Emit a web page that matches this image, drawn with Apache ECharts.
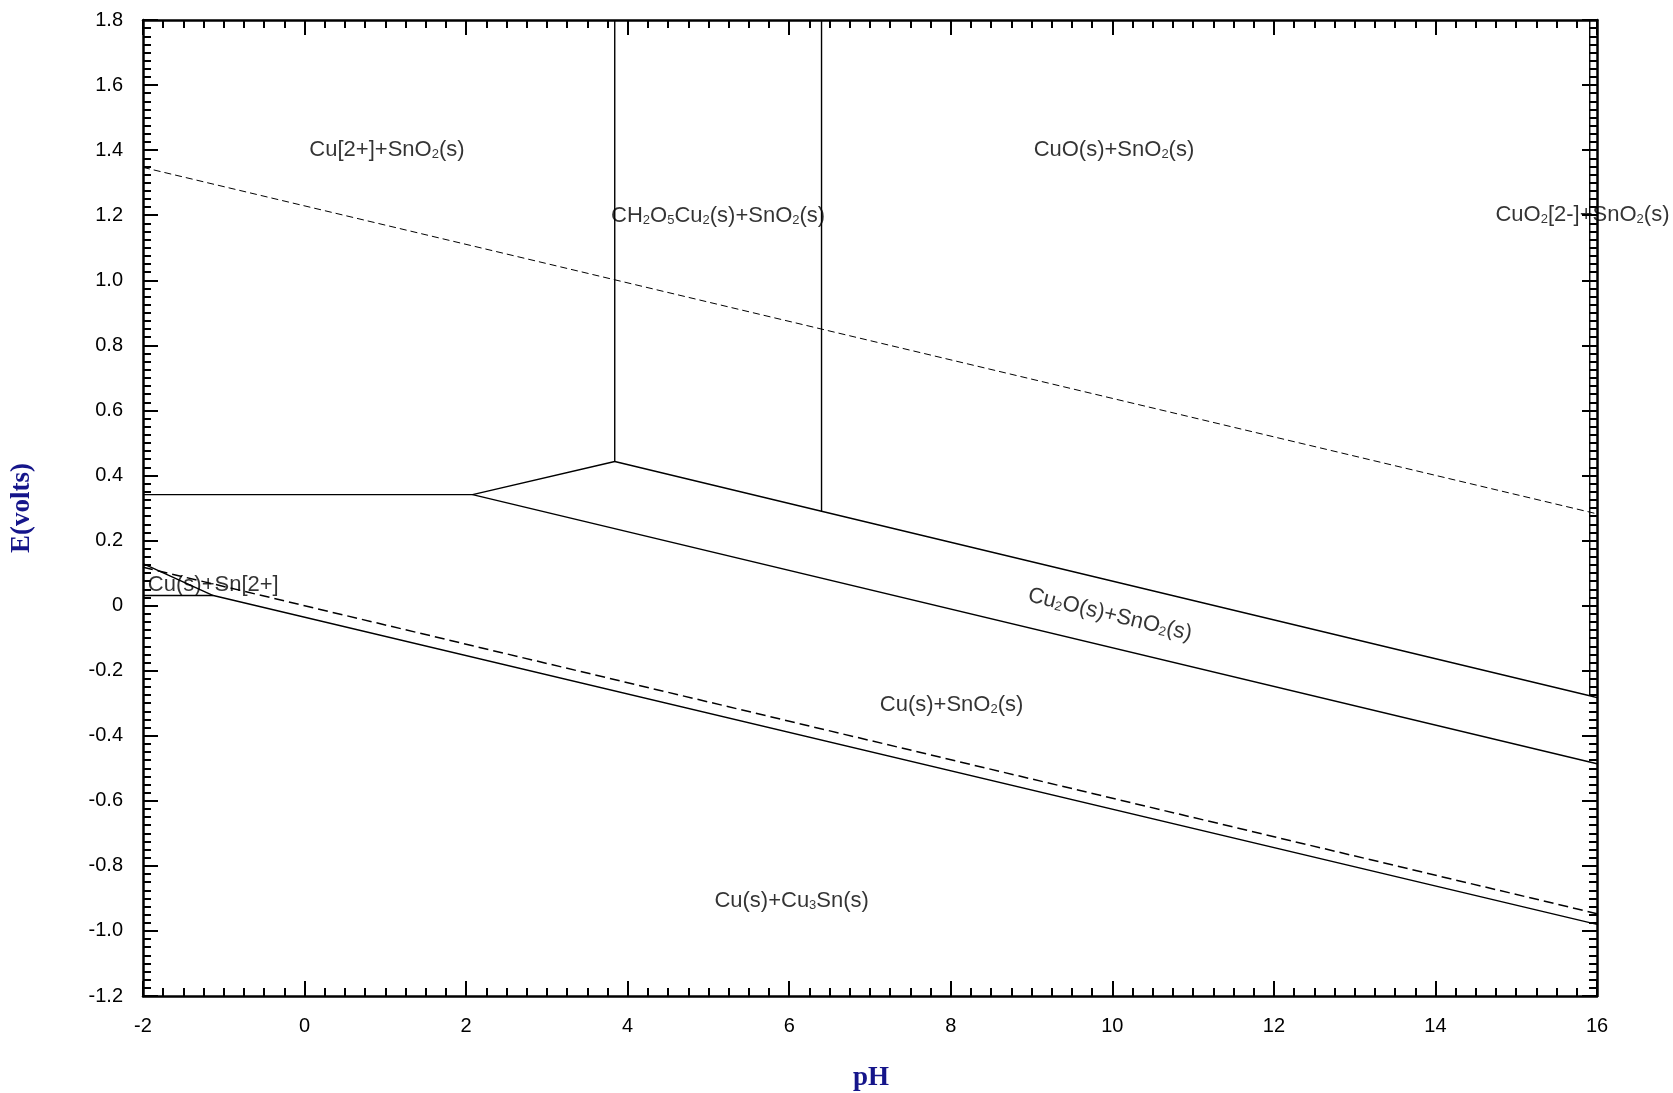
<!DOCTYPE html>
<html>
<head>
<meta charset="utf-8">
<title>Cu-Sn-H2O Pourbaix diagram</title>
<script src="https://cdn.jsdelivr.net/npm/echarts@6/dist/echarts.min.js"></script>
<style>
  html, body { margin: 0; padding: 0; background: #ffffff; }
  #chart { width: 1673px; height: 1093px; }
</style>
</head>
<body>
<div id="chart"></div>
<script>
// Axis ranges and tick steps
const phRange = [-2, 16];
const eRange = [-1.2, 1.8];
const phStep = 2;
const eStep = 0.2;

// Water stability limits (dashed)
const oxygenLine = [[-2, 1.347], [16, 0.282]];
const hydrogenLine = [[-2, 0.118], [16, -0.947]];

// Phase boundaries (solid), as [pH, E] vertices
const cuSnBoundary = [[-2, 0.129], [-1.13, 0.031], [16, -0.98]];
const snIonFloor = [[-2, 0.031], [-1.13, 0.031]];
const cuIonBoundary = [[-2, 0.341], [2.08, 0.341], [3.84, 0.443], [3.84, 1.8]];
const cuCu2oBoundary = [[2.08, 0.341], [16, -0.486]];
const cu2oUpperBoundary = [[3.84, 0.443], [6.40, 0.290], [15.91, -0.277], [16, -0.283]];
const malachiteEdge = [[6.40, 0.290], [6.40, 1.8]];
const cuprateEdge = [[15.91, -0.277], [15.91, 1.8]];

// Region labels: text (rich markup for subscripts), pH, E, rotation
const regionNames = [
  'Cu[2+]+SnO{sub|2}(s)',
  'CuO(s)+SnO{sub|2}(s)',
  'CH{sub|2}O{sub|5}Cu{sub|2}(s)+SnO{sub|2}(s)',
  'CuO{sub|2}[2-]+SnO{sub|2}(s)',
  'Cu{sub|2}O(s)+SnO{sub|2}(s)',
  'Cu(s)+SnO{sub|2}(s)',
  'Cu(s)+Cu{sub|3}Sn(s)',
  'Cu(s)+Sn[2+]'
];
const regionPH = [1.02, 10.02, 5.12, 15.82, 9.97, 8.01, 6.03, -1.13];
const regionE = [1.40, 1.40, 1.197, 1.20, -0.028, -0.305, -0.908, 0.065];
const regionRotate = [0, 0, 0, 0, -13.5, 0, 0, 0];

const FONT = "'Liberation Sans', Arial, sans-serif";
const TITLE_FONT = "'Liberation Serif', 'Times New Roman', serif";
const TITLE_COLOR = '#15158a';

function eLabel(v) {
  if (Math.abs(v) < 1e-9) return '0';
  return v.toFixed(1);
}

function makeXAxis(position, showLabels) {
  return {
    type: 'value',
    position: position,
    min: phRange[0], max: phRange[1], interval: phStep,
    axisLine: { show: true, onZero: false, lineStyle: { color: '#000', width: 2.5 } },
    axisTick: { show: true, inside: true, length: 15, lineStyle: { color: '#000', width: 2 } },
    minorTick: { show: true, splitNumber: 8, length: 8, lineStyle: { color: '#000', width: 2 } },
    splitLine: { show: false },
    axisLabel: {
      show: showLabels, margin: 20, color: '#000', fontSize: 20, fontFamily: FONT,
      formatter: v => String(Math.round(v))
    }
  };
}

function makeYAxis(position, showLabels) {
  return {
    type: 'value',
    position: position,
    min: eRange[0], max: eRange[1], interval: eStep,
    axisLine: { show: true, onZero: false, lineStyle: { color: '#000', width: 2.5 } },
    axisTick: { show: true, inside: true, length: 15, lineStyle: { color: '#000', width: 2 } },
    minorTick: { show: true, splitNumber: 8, length: 8, lineStyle: { color: '#000', width: 2 } },
    splitLine: { show: false },
    axisLabel: {
      show: showLabels, margin: 20, color: '#000', fontSize: 20, fontFamily: FONT,
      formatter: eLabel
    }
  };
}

function boundary(data, dashed, width) {
  return {
    type: 'line',
    data: data,
    xAxisIndex: 0, yAxisIndex: 0,
    showSymbol: false, symbol: 'none',
    silent: true,
    lineStyle: { color: '#000', width: width, type: dashed || 'solid' },
    z: 3
  };
}

const labelData = regionNames.map((name, i) => ({
  value: [regionPH[i], regionE[i]],
  name: name,
  label: { rotate: regionRotate[i] }
}));

const chart = echarts.init(document.getElementById('chart'), null, { renderer: 'canvas' });

chart.setOption({
  animation: false,
  backgroundColor: '#ffffff',
  grid: { left: 143, right: 76, top: 20, bottom: 97, containLabel: false },
  xAxis: [makeXAxis('bottom', true), makeXAxis('top', false)],
  yAxis: [makeYAxis('left', true), makeYAxis('right', false)],
  series: [
    boundary(oxygenLine, [7, 4], 1),
    boundary(hydrogenLine, [10, 5], 1.5),
    boundary(cuSnBoundary, null, 1.4),
    boundary(snIonFloor, null, 1.4),
    boundary(cuIonBoundary, null, 1.4),
    boundary(cuCu2oBoundary, null, 1.4),
    boundary(cu2oUpperBoundary, null, 1.4),
    boundary(malachiteEdge, null, 1.4),
    boundary(cuprateEdge, null, 1.4),
    {
      type: 'scatter',
      xAxisIndex: 0, yAxisIndex: 0,
      symbolSize: 0,
      silent: true,
      clip: false,
      data: labelData,
      z: 5,
      label: {
        show: true,
        position: 'inside',
        color: '#000',
        fontSize: 22,
        fontFamily: FONT,
        formatter: p => p.name,
        rich: {
          sub: { fontSize: 13, fontFamily: FONT, color: '#000', verticalAlign: 'bottom' }
        }
      }
    }
  ],
  graphic: [
    {
      type: 'text',
      x: 22, y: 508,
      rotation: Math.PI / 2,
      style: {
        text: 'E(volts)',
        font: 'bold 27px ' + TITLE_FONT,
        fill: TITLE_COLOR,
        textAlign: 'center',
        textVerticalAlign: 'middle'
      }
    },
    {
      type: 'text',
      x: 871, y: 1078,
      style: {
        text: 'pH',
        font: 'bold 27px ' + TITLE_FONT,
        fill: TITLE_COLOR,
        textAlign: 'center',
        textVerticalAlign: 'middle'
      }
    }
  ]
});
</script>
</body>
</html>
